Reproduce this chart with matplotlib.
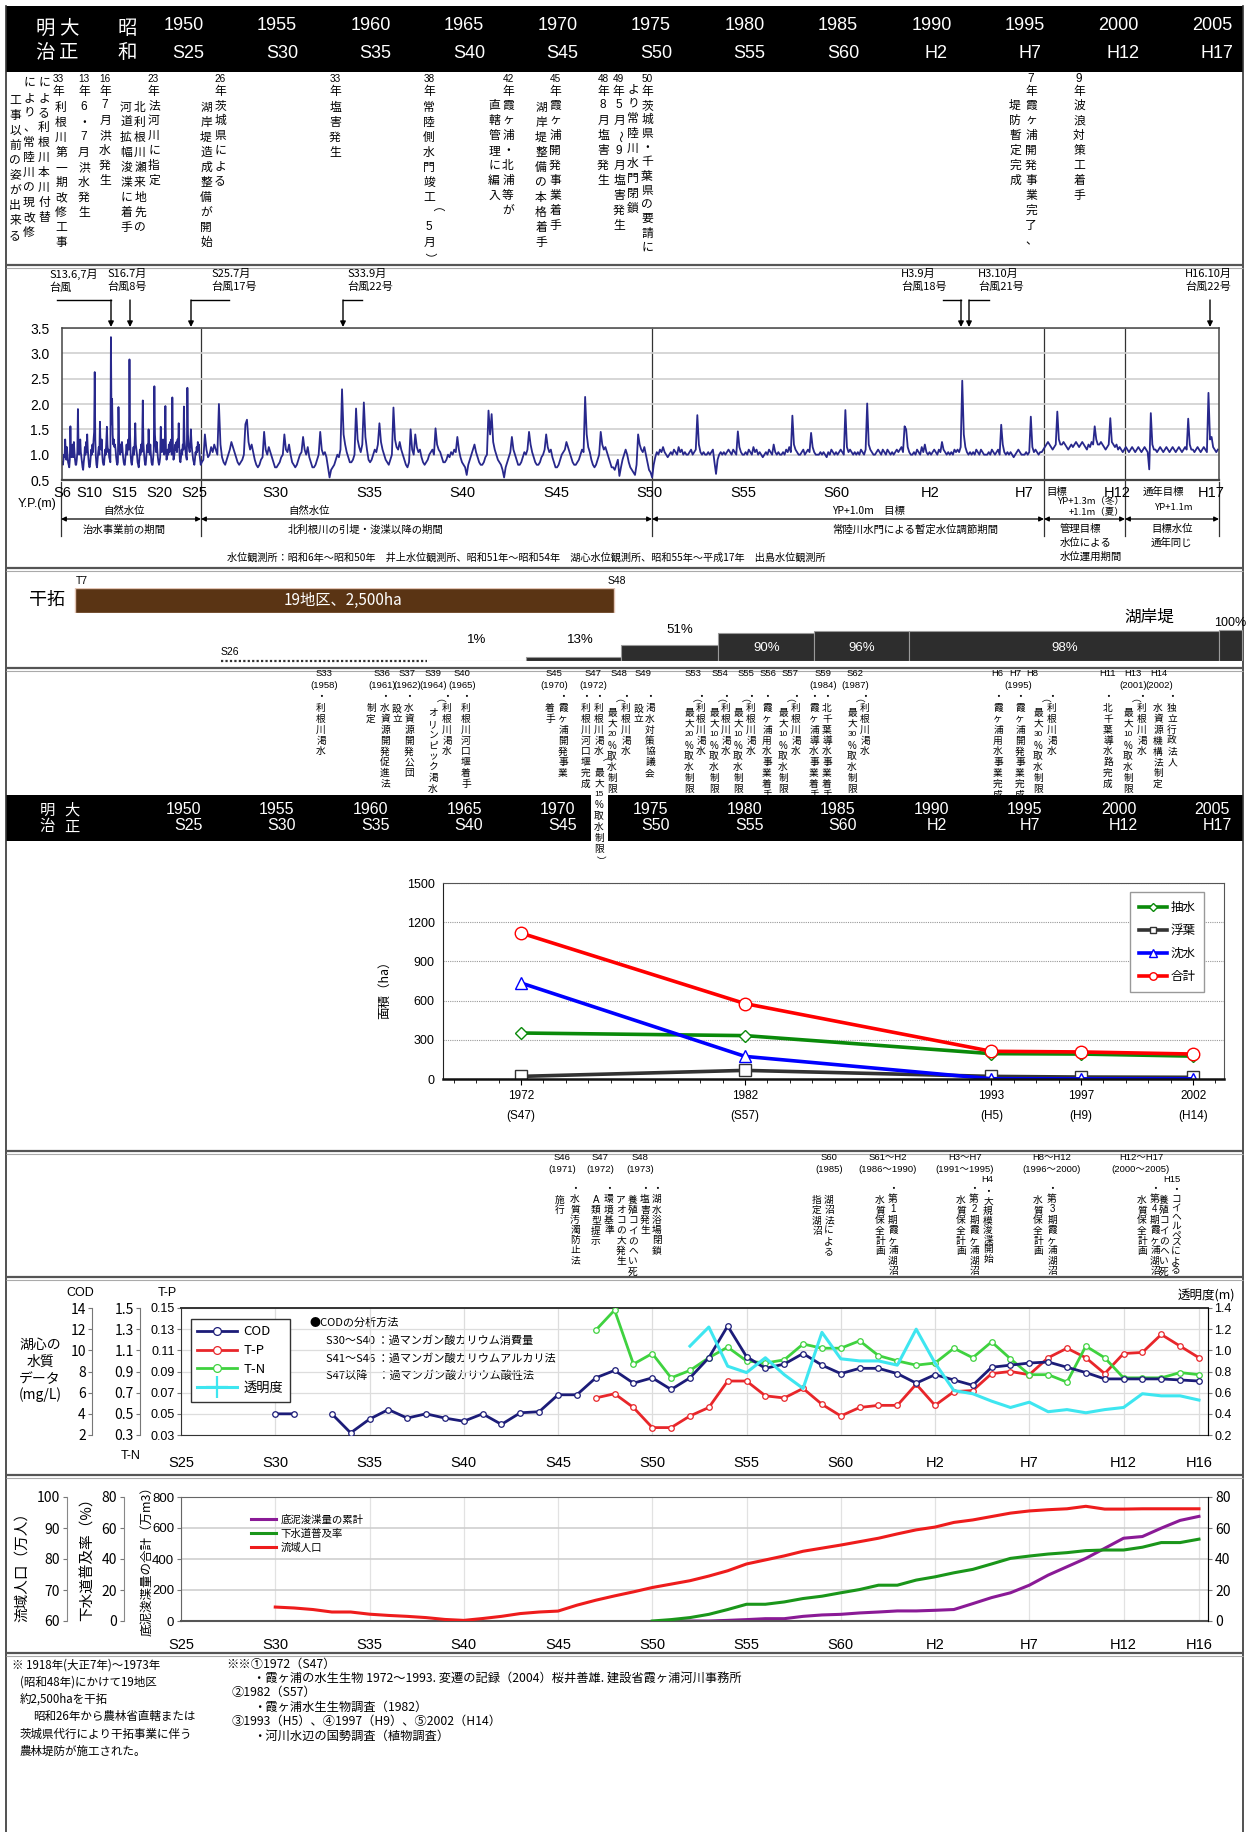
import re
import numpy as np
import matplotlib
matplotlib.use('Agg')
import matplotlib.pyplot as plt
from matplotlib import font_manager
from matplotlib.patches import Rectangle
from matplotlib.lines import Line2D

W, H, DPI = 1246, 1832, 100
JP = 'Noto Sans CJK JP'
_names = {f.name for f in font_manager.fontManager.ttflist}
NARROW = 'Liberation Sans Narrow' if 'Liberation Sans Narrow' in _names else 'Liberation Sans'
plt.rcParams['font.family'] = [JP, 'DejaVu Sans']
plt.rcParams['axes.unicode_minus'] = False
NUMF = [NARROW, JP, 'DejaVu Sans']
JPF = [JP, 'DejaVu Sans']
PT = 72.0 / DPI

# ===================== DATA =====================
HEAD_YEARS = [1950, 1955, 1960, 1965, 1970, 1975, 1980, 1985, 1990, 1995, 2000, 2005]
HEAD_ERAS = ['S25', 'S30', 'S35', 'S40', 'S45', 'S50', 'S55', 'S60', 'H2', 'H7', 'H12', 'H17']

# monthly lake water level (Y.P. m), one row per year from 1931
WL_START = 1931
water_level = [
    [0.85, 0.80, 0.90, 1.00, 0.95, 1.30, 1.05, 0.90, 1.15, 1.00, 0.85, 0.80],
    [0.75, 0.90, 1.56, 1.10, 0.95, 1.05, 1.20, 0.95, 1.25, 1.05, 0.90, 0.80],
    [0.80, 0.90, 1.05, 1.90, 1.20, 1.00, 1.10, 1.30, 1.05, 0.95, 0.85, 0.75],
    [0.70, 0.85, 0.95, 1.15, 1.00, 1.25, 1.05, 1.40, 1.10, 0.95, 0.80, 0.75],
    [0.80, 0.95, 1.10, 1.00, 1.20, 1.05, 1.30, 1.45, 2.63, 1.30, 0.95, 0.80],
    [0.75, 0.90, 1.05, 1.15, 1.00, 1.65, 1.20, 1.10, 1.30, 1.00, 0.85, 0.80],
    [0.80, 0.95, 1.10, 1.00, 1.25, 1.55, 1.20, 1.05, 1.10, 0.95, 0.90, 0.85],
    [3.32, 1.60, 2.10, 1.40, 1.20, 1.30, 1.15, 1.20, 1.10, 0.95, 0.85, 0.80],
    [0.85, 1.94, 1.30, 1.10, 1.00, 1.20, 1.05, 1.25, 1.10, 0.95, 0.85, 0.80],
    [0.80, 0.95, 1.05, 1.20, 1.00, 1.15, 1.30, 1.10, 2.88, 1.40, 1.00, 0.85],
    [0.80, 0.90, 1.05, 1.15, 1.00, 1.25, 1.62, 1.20, 1.10, 1.00, 0.85, 0.80],
    [0.75, 0.90, 1.10, 1.00, 1.20, 1.05, 1.30, 2.07, 1.25, 1.05, 0.90, 0.80],
    [0.80, 0.95, 1.10, 1.20, 1.05, 1.50, 1.15, 1.00, 1.20, 1.00, 0.85, 0.80],
    [0.80, 0.95, 1.10, 2.35, 1.40, 1.20, 1.05, 1.25, 1.10, 0.95, 0.85, 0.80],
    [0.85, 0.95, 1.55, 1.20, 1.05, 1.10, 1.30, 1.15, 1.00, 1.20, 1.96, 1.10],
    [0.90, 0.95, 1.10, 1.00, 1.20, 1.05, 1.25, 1.15, 1.30, 1.00, 2.13, 1.20],
    [0.90, 0.95, 1.05, 1.20, 1.10, 1.25, 1.05, 1.30, 1.15, 1.62, 1.10, 0.90],
    [0.85, 0.95, 1.10, 1.00, 1.20, 1.10, 1.95, 1.30, 1.15, 1.05, 0.95, 0.90],
    [2.32, 1.40, 1.20, 1.10, 1.05, 1.20, 1.50, 1.25, 1.10, 1.00, 0.90, 0.85],
    [0.80, 0.90, 1.05, 1.00, 1.15, 1.05, 1.25, 1.10, 1.20, 1.00, 0.90, 0.80],
    [0.85, 0.90, 1.40, 1.10, 0.95, 1.00, 1.15, 1.05, 1.20, 1.10, 1.00, 2.00],
    [1.20, 0.95, 0.85, 0.80, 0.90, 1.00, 1.10, 1.25, 1.15, 1.05, 0.95, 0.85],
    [0.80, 0.85, 0.90, 1.00, 1.60, 1.69, 1.25, 1.10, 1.20, 1.05, 0.90, 0.80],
    [0.75, 0.80, 0.90, 0.95, 1.45, 1.10, 1.00, 1.15, 1.05, 0.95, 0.85, 0.75],
    [0.75, 0.80, 0.85, 0.95, 1.00, 1.40, 1.10, 1.05, 1.20, 1.00, 0.85, 0.80],
    [0.75, 0.80, 0.90, 1.00, 1.05, 1.35, 1.10, 1.00, 1.15, 0.95, 0.85, 0.75],
    [0.75, 0.80, 0.90, 1.00, 1.45, 1.10, 1.00, 1.05, 0.95, 0.75, 0.55, 0.70],
    [0.75, 0.80, 0.90, 1.00, 0.95, 1.10, 2.29, 1.40, 1.20, 1.05, 0.95, 0.85],
    [0.85, 0.90, 1.00, 1.91, 1.30, 1.15, 1.05, 1.20, 2.03, 1.35, 1.10, 0.90],
    [0.85, 0.90, 1.00, 1.10, 1.05, 1.20, 1.62, 1.25, 1.10, 1.00, 0.90, 0.85],
    [0.80, 0.90, 1.00, 1.93, 1.30, 1.15, 1.10, 1.25, 1.10, 1.00, 0.90, 0.80],
    [0.75, 0.85, 1.50, 1.10, 1.00, 1.40, 1.15, 1.05, 1.10, 0.95, 0.85, 0.80],
    [0.85, 0.90, 1.00, 1.05, 1.10, 1.00, 1.52, 1.20, 1.10, 1.05, 0.95, 0.85],
    [0.85, 0.90, 1.00, 0.95, 1.05, 1.00, 1.10, 1.05, 1.35, 1.10, 0.95, 0.85],
    [0.80, 0.75, 0.60, 0.80, 0.90, 1.00, 1.10, 1.20, 1.05, 0.95, 0.85, 0.80],
    [0.80, 0.85, 0.95, 1.00, 1.87, 1.40, 1.80, 1.25, 1.10, 1.00, 0.90, 0.85],
    [0.80, 0.70, 0.55, 0.75, 0.85, 0.95, 1.05, 1.35, 1.10, 1.00, 0.90, 0.80],
    [0.80, 0.85, 0.95, 1.05, 1.00, 1.10, 1.45, 1.20, 1.05, 0.95, 0.85, 0.80],
    [0.80, 0.85, 0.95, 1.00, 1.10, 1.40, 1.15, 1.05, 1.10, 0.95, 0.85, 0.75],
    [0.75, 0.80, 0.90, 1.00, 1.05, 1.10, 1.25, 1.15, 1.05, 0.95, 0.85, 0.80],
    [0.80, 0.85, 0.90, 1.00, 1.10, 1.05, 2.14, 1.40, 1.15, 1.05, 0.90, 0.80],
    [0.75, 0.80, 0.90, 1.00, 1.45, 1.20, 1.10, 1.15, 1.05, 0.95, 0.85, 0.75],
    [0.75, 0.70, 0.80, 0.90, 0.58, 0.75, 0.90, 1.00, 1.10, 1.00, 0.85, 0.75],
    [0.70, 0.65, 0.60, 0.80, 1.40, 1.20, 1.10, 1.05, 1.15, 1.00, 0.85, 0.70],
    [0.65, 0.55, 0.80, 0.95, 1.05, 1.00, 1.10, 1.05, 1.15, 1.05, 1.00, 0.95],
    [1.00, 1.05, 1.00, 1.10, 1.05, 1.00, 1.15, 1.05, 1.10, 1.00, 1.05, 1.00],
    [1.00, 1.05, 1.10, 1.00, 1.05, 1.10, 1.78, 1.20, 1.05, 1.00, 1.05, 1.00],
    [1.00, 1.05, 1.00, 1.05, 1.10, 0.85, 0.62, 0.90, 1.00, 1.05, 1.00, 1.05],
    [1.00, 1.05, 1.10, 1.05, 1.00, 1.10, 1.05, 1.00, 1.46, 1.15, 1.05, 1.00],
    [1.00, 1.05, 1.00, 1.10, 1.05, 1.00, 1.15, 1.05, 1.10, 1.00, 1.05, 1.00],
    [0.95, 1.00, 1.05, 1.00, 1.10, 1.05, 1.00, 1.20, 1.05, 1.00, 1.05, 1.00],
    [1.00, 1.05, 1.00, 1.10, 1.05, 1.15, 1.05, 1.77, 1.20, 1.10, 1.05, 1.00],
    [1.00, 1.05, 1.10, 1.00, 1.05, 1.10, 1.05, 1.43, 1.15, 1.05, 1.00, 1.00],
    [1.00, 1.05, 1.00, 1.05, 1.00, 0.95, 1.05, 1.00, 1.10, 1.05, 1.00, 1.05],
    [1.00, 1.05, 1.10, 1.05, 1.00, 1.88, 1.15, 1.05, 1.10, 1.05, 1.00, 1.05],
    [1.00, 1.05, 1.00, 1.10, 1.05, 1.00, 1.10, 2.01, 1.20, 1.10, 1.05, 1.00],
    [1.00, 1.05, 1.10, 1.05, 1.00, 1.10, 1.05, 1.00, 1.10, 1.05, 1.00, 1.05],
    [1.00, 1.05, 1.10, 1.05, 1.10, 1.15, 1.05, 1.56, 1.50, 1.15, 1.05, 1.00],
    [1.00, 1.05, 1.00, 1.10, 1.05, 1.00, 1.15, 1.05, 1.20, 1.05, 1.00, 1.05],
    [1.00, 1.05, 1.10, 1.05, 1.00, 1.10, 1.05, 1.25, 1.10, 1.05, 1.00, 1.05],
    [1.00, 1.05, 1.00, 1.10, 1.05, 1.10, 1.05, 1.15, 2.46, 1.40, 1.15, 1.05],
    [1.00, 1.05, 1.00, 1.05, 1.00, 1.10, 1.05, 1.00, 1.10, 1.05, 1.00, 1.00],
    [1.00, 1.05, 1.00, 1.10, 1.05, 1.00, 1.05, 1.10, 1.00, 1.59, 1.20, 1.05],
    [1.00, 1.05, 1.00, 1.05, 1.00, 0.95, 1.00, 1.05, 1.10, 1.05, 1.00, 1.00],
    [1.00, 1.05, 1.00, 1.05, 1.75, 1.15, 1.05, 1.10, 1.05, 1.00, 1.05, 1.05],
    [1.10, 1.15, 1.20, 1.25, 1.20, 1.15, 1.10, 1.15, 1.20, 1.85, 1.30, 1.20],
    [1.20, 1.25, 1.20, 1.15, 1.10, 1.15, 1.20, 1.15, 1.20, 1.25, 1.20, 1.15],
    [1.20, 1.25, 1.20, 1.15, 1.10, 1.20, 1.15, 1.25, 1.20, 1.56, 1.30, 1.20],
    [1.20, 1.25, 1.20, 1.15, 1.10, 1.15, 1.20, 1.72, 1.25, 1.20, 1.15, 1.20],
    [1.10, 1.15, 1.10, 1.05, 1.10, 1.15, 1.10, 1.05, 1.10, 1.15, 1.10, 1.05],
    [1.10, 1.15, 1.10, 1.05, 1.10, 1.15, 1.10, 1.05, 0.71, 1.82, 1.20, 1.10],
    [1.10, 1.05, 1.10, 1.15, 1.10, 1.05, 1.10, 1.15, 1.10, 1.05, 1.10, 1.15],
    [1.10, 1.05, 1.10, 1.15, 1.10, 1.05, 1.10, 1.15, 1.10, 1.71, 1.20, 1.10],
    [1.10, 1.05, 1.10, 1.15, 1.10, 1.05, 1.10, 1.15, 1.10, 1.05, 2.22, 1.30],
    [1.35, 1.15, 1.10, 1.05, 1.10],
]
WL_TICKS = [1931, 1935, 1940, 1945, 1950, 1955, 1960, 1965, 1970, 1975, 1980, 1985, 1990, 1995, 2000, 2005]
WL_TICK_LABELS = ['S6', 'S10', 'S15', 'S20', 'S25', 'S30', 'S35', 'S40', 'S45', 'S50', 'S55', 'S60', 'H2', 'H7', 'H12', 'H17']

RECLAIM = (1918, 1973)          # T7 - S48
SHORE_DOTTED = (1952, 1963)
SHORE_START = [1963, 1968.3, 1973.4, 1978.6, 1983.7, 1988.8, 2005.4]
SHORE_END = [1968.3, 1973.4, 1978.6, 1983.7, 1988.8, 2005.4, 2006.6]
SHORE_PCT = [1, 13, 51, 90, 96, 98, 100]

AREA_YEARS = [1972, 1982, 1993, 1997, 2002]
AREA_XLABELS = ['1972\n(S47)', '1982\n(S57)', '1993\n(H5)', '1997\n(H9)', '2002\n(H14)']
area_emergent = [352, 332, 194, 191, 175]
area_floating = [20, 66, 20, 15, 13]
area_submerged = [735, 173, 2, 1, 1]
area_total = [1117, 577, 212, 207, 191]

WQ_TICKS = [1950, 1955, 1960, 1965, 1970, 1975, 1980, 1985, 1990, 1995, 2000, 2004]
WQ_TICK_LABELS = ['S25', 'S30', 'S35', 'S40', 'S45', 'S50', 'S55', 'S60', 'H2', 'H7', 'H12', 'H16']
cod_years = list(range(1955, 2005))
cod = [4.0, 4.0, np.nan, 4.0, 2.2, 3.5, 4.4, 3.6, 4.0, 3.6, 3.3, 4.0, 3.0, 4.1, 4.2, 5.8, 5.8,
       7.4, 8.1, 6.9, 7.4, 6.3, 7.4, 9.3, 12.3, 9.4, 8.3, 8.7, 9.7, 8.6, 7.8, 8.3, 8.3, 7.8,
       6.9, 7.7, 7.2, 6.7, 8.4, 8.6, 8.8, 8.9, 8.4, 7.9, 7.3, 7.3, 7.3, 7.3, 7.2, 7.1]
tp_years = list(range(1972, 2005))
tp = [0.065, 0.069, 0.056, 0.037, 0.037, 0.048, 0.056, 0.081, 0.081, 0.067, 0.065, 0.074,
      0.059, 0.048, 0.056, 0.058, 0.058, 0.078, 0.058, 0.071, 0.072, 0.088, 0.090, 0.087,
      0.103, 0.112, 0.103, 0.088, 0.107, 0.108, 0.125, 0.114, 0.103]
tn_years = list(range(1972, 2005))
tn = [1.29, 1.48, 0.97, 1.07, 0.84, 0.91, 1.03, 1.13, 1.00, 0.98, 1.01, 1.16, 1.12, 1.12,
      1.19, 1.05, 1.00, 0.96, 0.98, 1.12, 1.03, 1.18, 1.02, 0.87, 0.87, 0.80, 1.14, 1.03,
      0.84, 0.84, 0.84, 0.89, 0.87]
tr_years = list(range(1977, 2005))
transparency = [1.04, 1.22, 0.85, 0.79, 0.93, 0.77, 0.64, 1.17, 0.92, 0.90, 0.90, 0.86, 1.20,
                0.88, 0.62, 0.59, 0.52, 0.46, 0.51, 0.42, 0.44, 0.41, 0.44, 0.46, 0.59, 0.57,
                0.57, 0.53]

pop_years = list(range(1955, 2005))
population = [64.5, 64.2, 63.7, 62.9, 62.9, 62.2, 61.8, 61.5, 61.1, 60.5, 60.2, 60.8, 61.5,
              62.4, 62.9, 63.2, 65.1, 66.7, 68.1, 69.4, 70.8, 71.9, 73.0, 74.5, 76.2, 78.4,
              79.7, 81.0, 82.5, 83.5, 84.5, 85.6, 86.7, 88.1, 89.4, 90.3, 91.8, 92.6, 93.7,
              94.8, 95.5, 95.9, 96.2, 97.0, 96.1, 96.1, 96.2, 96.2, 96.2, 96.2]
sewer_years = list(range(1975, 2005))
sewer = [0, 0.9, 2.2, 4.3, 7.4, 10.8, 10.8, 12.3, 14.5, 16.0, 18.2, 20.3, 23.1, 23.1, 26.4,
         28.5, 31.1, 33.3, 36.8, 40.4, 41.9, 43.2, 44.1, 45.4, 45.8, 45.8, 47.6, 50.6, 50.6, 52.8]
sludge_years = list(range(1976, 2005))
sludge = [0, 0, 0, 4, 9, 15, 15, 30, 39, 43, 52, 58, 65, 65, 69, 74, 112, 151, 182, 231, 296,
          350, 404, 469, 534, 545, 599, 649, 675]

# ===================== TEXT CONTENT =====================
SEC1_LABELS = [(58, '33年'), (84, '13年'), (105, '16年'), (153, '23年'), (220, '26年'), (335, '33年'),
               (429, '38年'), (508, '42年'), (555, '45年'), (603, '48年'), (618, '49年'),
               (647, '50年'), (1031, '7年'), (1079, '9年')]
SEC1_COLS = [(61, 100, '利根川第一期改修工事'), (44, 75, 'による利根川本川付替'),
             (29, 75, 'により、常陸川の現改修'), (15, 93, '工事以前の姿が出来る'),
             (84, 100, '6・7月洪水発生'), (105, 98, '7月洪水発生'),
             (154, 98, '法河川に指定'), (140, 100, '北利根川瀬来地先の'), (126, 100, '河道拡幅浚渫に着手'),
             (220, 98, '茨城県による'), (206, 100, '湖岸堤造成整備が開始'),
             (335, 100, '塩害発生'), (429, 100, '常陸側水門竣工（5月）'),
             (508, 98, '霞ヶ浦・北浦等が'), (494, 98, '直轄管理に編入'),
             (555, 98, '霞ヶ浦開発事業着手'), (541, 100, '湖岸堤整備の本格着手'),
             (603, 98, '8月塩害発生'), (619, 98, '5月～9月塩害発生'),
             (647, 98, '茨城県・千葉県の要請に', 14.2), (633, 81, 'より常陸川水門閉鎖'),
             (1031, 98, '霞ヶ浦開発事業完了、'), (1015, 98, '堤防暫定完成'),
             (1079, 98, '波浪対策工着手')]

SEC5_LABELS = [(324, 'S33', '(1958)'), (382, 'S36', '(1961)'), (407, 'S37', '(1962)'),
               (433, 'S39', '(1964)'), (462, 'S40', '(1965)'), (554, 'S45', '(1970)'),
               (593, 'S47', '(1972)'), (619, 'S48', ''), (643, 'S49', ''), (693, 'S53', ''),
               (720, 'S54', ''), (746, 'S55', ''), (768, 'S56', ''), (790, 'S57', ''),
               (823, 'S59', '(1984)'), (855, 'S62', '(1987)'), (997, 'H6', ''),
               (1015, 'H7', ''), (1032, 'H8', ''), (1108, 'H11', ''), (1133, 'H13', '(2001)'),
               (1159, 'H14', '(2002)')]
SEC5_EXTRA = [(1018, '(1995)')]
SEC5_COLS = [(321, 692, '・利根川渇水'),
             (385, 692, '・水資源開発促進法'), (371, 703, '制定'),
             (409, 692, '・水資源開発公団'), (397, 703, '設立'),
             (447, 692, '・利根川渇水'), (433, 697, '（オリンピック渇水）'),
             (466, 692, '・利根川河口堰着手'),
             (563, 692, '・霞ヶ浦開発事業'), (550, 703, '着手'),
             (586, 692, '・利根川河口堰完成'), (599, 692, '・利根川渇水（最大15%取水制限）'),
             (626, 692, '・利根川渇水'), (612, 697, '（最大20%取水制限）'),
             (650, 692, '・渇水対策協議会'), (638, 703, '設立'),
             (701, 692, '・利根川渇水'), (689, 697, '（最大20%取水制限）'),
             (726, 692, '・利根川渇水'), (714, 697, '（最大10%取水制限）'),
             (751, 692, '・利根川渇水'), (738, 697, '（最大10%取水制限）'),
             (767, 692, '・霞ヶ浦用水事業着手'),
             (796, 692, '・利根川渇水'), (783, 697, '（最大10%取水制限）'),
             (827, 692, '・北千葉導水事業着手'), (814, 692, '・霞ヶ浦導水事業着手'),
             (865, 692, '・利根川渇水'), (852, 697, '（最大30%取水制限）'),
             (998, 692, '・霞ヶ浦用水事業完成'), (1020, 692, '・霞ヶ浦開発事業完成'),
             (1052, 692, '・利根川渇水'), (1038, 697, '（最大30%取水制限）'),
             (1108, 692, '・北千葉導水路完成'),
             (1142, 692, '・利根川渇水'), (1128, 697, '（最大10%取水制限）'),
             (1172, 692, '・独立行政法人'), (1158, 703, '水資源機構法制定')]

SEC8_LABELS = [(562, 'S46', '(1971)'), (600, 'S47', '(1972)'), (640, 'S48', '(1973)'),
               (829, 'S60', '(1985)'), (888, 'S61～H2', '(1986～1990)'),
               (965, 'H3～H7', '(1991～1995)'), (1052, 'H8～H12', '(1996～2000)'),
               (1141, 'H12～H17', '(2000～2005)')]
SEC8_EXTRA = [(987, 'H4'), (1172, 'H15')]
SEC8_COLS = [(575, 1184, '・水質汚濁防止法'), (560, 1195, '施行'),
             (609, 1184, '・環境基準'), (596, 1195, 'A類型提示'),
             (657, 1184, '・湖水浴場閉鎖'), (645, 1184, '・塩害発生'),
             (633, 1195, '養殖コイのへい死'), (621, 1195, 'アオコの大発生'),
             (829, 1195, '湖沼法による'), (817, 1195, '指定湖沼'),
             (893, 1184, '・第1期霞ヶ浦湖沼'), (880, 1195, '水質保全計画'),
             (988, 1187, '・大規模浚渫開始', 9.6),
             (974, 1184, '・第2期霞ヶ浦湖沼'), (961, 1195, '水質保全計画'),
             (1052, 1184, '・第3期霞ヶ浦湖沼'), (1038, 1195, '水質保全計画'),
             (1176, 1186, '・コイヘルペスによる', 8.8), (1164, 1195, '養殖コイのへい死'),
             (1155, 1184, '・第4期霞ヶ浦湖沼'), (1142, 1195, '水質保全計画')]

# ===================== HELPERS =====================
fig = plt.figure(figsize=(W / DPI, H / DPI), dpi=DPI)
fig.patch.set_facecolor('white')
cv = fig.add_axes([0, 0, 1, 1])
cv.set_xlim(0, W)
cv.set_ylim(H, 0)
cv.axis('off')


def rect(x0, y0, x1, y1):
    return [x0 / W, 1 - y1 / H, (x1 - x0) / W, (y1 - y0) / H]


def xp(year):
    return 183.5 + (year - 1950) * 18.7


def pw(years, pxs):
    ys = np.asarray(years, float)
    ps = np.asarray(pxs, float)

    def fwd(t):
        return np.interp(t, ys, ps)

    def inv(p):
        return np.interp(p, ps, ys)
    return fwd, inv


ROT = set('（）()～~ー')


def vcol(x, ytop, s, size, pitch, color='black'):
    cells = re.findall(r'[0-9]+|.', s)
    for i, c in enumerate(cells):
        y = ytop + pitch * (i + 0.5)
        rot = -90 if c in ROT else 0
        fam = NUMF if c.isascii() and c not in '()' else JPF
        fs = size * 0.85 if (c.isdigit() and len(c) > 1) else size
        cv.text(x, y, c, fontsize=fs, ha='center', va='center', rotation=rot,
                rotation_mode='anchor', color=color, family=fam)


def hline(y):
    cv.plot([6, 1243], [y, y], color='#555555', lw=1.6, solid_capstyle='butt')
    cv.plot([6, 1243], [y + 2.6, y + 2.6], color='#aaaaaa', lw=0.8, solid_capstyle='butt')


# ===================== FRAME / BANDS =====================
cv.plot([6, 6], [6, H], color='#333333', lw=1.2)
cv.plot([1243, 1243], [6, H], color='#333333', lw=1.2)
for yy in (265, 568, 668, 1151, 1277, 1475, 1653):
    hline(yy)

cv.add_patch(Rectangle((6, 6), 1237, 66, facecolor='black', edgecolor='none'))
for (ch, x, y) in (('明', 45, 28), ('治', 45, 52), ('大', 69, 28), ('正', 69, 52), ('昭', 127, 28), ('和', 127, 52)):
    cv.text(x, y, ch, color='white', fontsize=14, ha='center', va='center')
for yr, era in zip(HEAD_YEARS, HEAD_ERAS):
    cv.text(xp(yr), 26, str(yr), color='white', fontsize=13, ha='center', va='center', family=NUMF)
    cv.text(xp(yr) + 5, 54, era, color='white', fontsize=13, ha='center', va='center', family=NUMF)

cv.add_patch(Rectangle((6, 795), 1237, 46, facecolor='black', edgecolor='none'))
cv.add_patch(Rectangle((591, 795), 17, 47, facecolor='white', edgecolor='none'))
for (ch, x, y) in (('明', 47, 810), ('治', 47, 827), ('大', 72, 810), ('正', 72, 827)):
    cv.text(x, y, ch, color='white', fontsize=11, ha='center', va='center')
for yr, era in zip(HEAD_YEARS, HEAD_ERAS):
    cv.text(xp(yr), 810, str(yr), color='white', fontsize=11.5, ha='center', va='center', family=NUMF)
    cv.text(xp(yr) + 5, 826, era, color='white', fontsize=11.5, ha='center', va='center', family=NUMF)

# ===================== SECTION 1: events =====================
for x, s in SEC1_LABELS:
    vcol(x, 73, s, 8.5, 12.5)
for item in SEC1_COLS:
    x, yt, s = item[:3]
    vcol(x, yt, s, 8.5, item[3] if len(item) > 3 else 15.0)

# ===================== SECTION 2: water level =====================
wl_vals = [v for row in water_level for v in row]
wl_t = WL_START + (np.arange(len(wl_vals)) + 0.5) / 12.0
wfwd, winv = pw([1800, 1931, 1951, 2100], [62 - 131 * 6.95, 62, 201, 201 + 149 * 18.7])
axw = fig.add_axes(rect(62, 328, 1219, 480))
axw.set_facecolor('none')
axw.set_xscale('function', functions=(wfwd, winv))
axw.set_xlim(1931, winv(1219))
axw.set_ylim(0.5, 3.5)
axw.plot(wl_t, wl_vals, color='#28288c', lw=1.3)
axw.set_yticks(np.arange(0.5, 3.51, 0.5))
axw.set_yticklabels(['%.1f' % v for v in np.arange(0.5, 3.51, 0.5)], family=NUMF, fontsize=10)
axw.set_xticks(WL_TICKS)
axw.set_xticklabels(WL_TICK_LABELS, family=NUMF, fontsize=10.5)
axw.tick_params(axis='both', length=0)
axw.tick_params(axis='x', pad=4)
axw.tick_params(axis='y', pad=9)
axw.yaxis.grid(True, color='#d0d0d0', lw=1.2)
axw.set_axisbelow(True)
for sp in axw.spines.values():
    sp.set_color('#444444')
    sp.set_linewidth(1.1)
axw.spines['bottom'].set_linewidth(1.6)

cv.text(37, 504, 'Y.P.(m)', fontsize=9, ha='center', va='center', family=NUMF)
for x in (201, 652, 1044, 1125):
    cv.plot([x, x], [328, 536], color='#333333', lw=0.9)
for x in (61, 1219):
    cv.plot([x, x], [482, 536], color='#333333', lw=0.9)
for a, b in ((61, 201), (201, 652), (652, 1044), (1044, 1125), (1125, 1219)):
    cv.annotate('', xy=(a, 519), xytext=(b, 519),
                arrowprops=dict(arrowstyle='<|-|>', color='black', lw=0.9, mutation_scale=7,
                                shrinkA=0, shrinkB=0))
fs_p = 7.5
cv.text(124, 511, '自然水位', fontsize=fs_p, ha='center', va='center')
cv.text(124, 530, '治水事業前の期間', fontsize=fs_p, ha='center', va='center')
cv.text(288, 511, '自然水位', fontsize=fs_p, ha='left', va='center')
cv.text(288, 530, '北利根川の引堤・浚渫以降の期間', fontsize=fs_p, ha='left', va='center')
cv.text(832, 511, 'YP+1.0m　目標', fontsize=fs_p, ha='left', va='center')
cv.text(832, 530, '常陸川水門による暫定水位調節期間', fontsize=fs_p, ha='left', va='center')
cv.text(1046, 492, '目標', fontsize=fs_p, ha='left', va='center')
cv.text(1058, 502, 'YP+1.3m（冬）', fontsize=6.8, ha='left', va='center')
cv.text(1069, 512, '+1.1m（夏）', fontsize=6.8, ha='left', va='center')
cv.text(1060, 529, '管理目標', fontsize=fs_p, ha='left', va='center')
cv.text(1060, 543, '水位による', fontsize=fs_p, ha='left', va='center')
cv.text(1060, 557, '水位運用期間', fontsize=fs_p, ha='left', va='center')
cv.text(1143, 492, '通年目標', fontsize=fs_p, ha='left', va='center')
cv.text(1155, 507, 'YP+1.1m', fontsize=6.8, ha='left', va='center')
cv.text(1151, 529, '目標水位', fontsize=fs_p, ha='left', va='center')
cv.text(1151, 543, '通年同じ', fontsize=fs_p, ha='left', va='center')
cv.text(227, 558, '水位観測所：昭和6年～昭和50年　井上水位観測所、昭和51年～昭和54年　湖心水位観測所、'
        '昭和55年～平成17年　出島水位観測所', fontsize=7.3, ha='left', va='center')

TYPH = [('S13.6,7月\n台風', 49, 57, 111), ('S16.7月\n台風8号', 107, 130, 130),
        ('S25.7月\n台風17号', 211, 229, 191), ('S33.9月\n台風22号', 347, 362, 343),
        ('H3.9月\n台風18号', 901, 943, 961), ('H3.10月\n台風21号', 978, 989, 969),
        ('H16.10月\n台風22号', 1185, 1210, 1210)]
for txt, tx, lx0, ax_ in TYPH:
    cv.text(tx, 269, txt, fontsize=8, ha='left', va='top', linespacing=1.25)
    if lx0 != ax_:
        cv.plot([lx0, ax_], [300, 300], color='black', lw=1)
    cv.annotate('', xy=(ax_, 327), xytext=(ax_, 300),
                arrowprops=dict(arrowstyle='-|>', color='black', lw=1, mutation_scale=8,
                                shrinkA=0, shrinkB=0))

# ===================== SECTION 3: reclamation / shore embankment =====================
rfwd, rinv = pw([1800, 1918, 1950, 2100], [75 - 118 * 3.39, 75, 183.5, 183.5 + 150 * 18.7])
axr = fig.add_axes(rect(0, 588, W, 613))
axr.set_xscale('function', functions=(rfwd, rinv))
axr.set_xlim(rinv(0), rinv(W))
axr.set_ylim(0, 1)
axr.axis('off')
axr.barh(0.5, RECLAIM[1] - RECLAIM[0], left=RECLAIM[0], height=1.0, color='#5a3414',
         edgecolor='#e2c4b4', linewidth=1.0)
cv.text(82, 581, 'T7', fontsize=7.5, ha='center', va='center', family=NUMF)
cv.text(617, 581, 'S48', fontsize=7.5, ha='center', va='center', family=NUMF)
cv.text(47, 600, '干拓', fontsize=13, ha='center', va='center')

axs = fig.add_axes(rect(0, 620, W, 661))
axs.set_xscale('function', functions=(rfwd, rinv))
axs.set_xlim(rinv(0), rinv(W))
axs.set_ylim(0, 132)
axs.axis('off')
axs.bar(SHORE_START, SHORE_PCT, width=np.subtract(SHORE_END, SHORE_START), align='edge',
        color='#2d2d2d', edgecolor='#9a9a9a', linewidth=0.8)
axs.plot(SHORE_DOTTED, [0.5, 0.5], color='#333333', lw=1.6, ls=(0, (1, 1)), clip_on=False)
cv.text(477, 640, '1%', fontsize=9.5, ha='center', va='center', family=NUMF)
cv.text(580, 640, '13%', fontsize=9.5, ha='center', va='center', family=NUMF)
cv.text(680, 630, '51%', fontsize=9.5, ha='center', va='center', family=NUMF)
cv.text(1230, 623, '100%', fontsize=9, ha='center', va='center', family=NUMF)
cv.text(1149, 617, '湖岸堤', fontsize=12, ha='center', va='center')
cv.text(230, 652, 'S26', fontsize=7.5, ha='center', va='center', family=NUMF)

# ===================== SECTION 5: water use events =====================
for x, a, b in SEC5_LABELS:
    cv.text(x, 673, a, fontsize=6.8, ha='center', va='center', family=NUMF)
    if b:
        cv.text(x, 685, b, fontsize=6.8, ha='center', va='center', family=NUMF)
for x, b in SEC5_EXTRA:
    cv.text(x, 685, b, fontsize=6.8, ha='center', va='center', family=NUMF)
for x, yt, s in SEC5_COLS:
    vcol(x, yt, s, 7, 10.8)

# ===================== SECTION 6: vegetation area chart =====================
axa = fig.add_axes(rect(443, 883, 1224, 1079))
axa.set_facecolor('none')
axa.set_xlim(1968.52, 2003.38)
axa.set_ylim(0, 1500)
l1, = axa.plot(AREA_YEARS, area_emergent, color='#0a8a0a', lw=2.6, marker='D', ms=6.5,
               mfc='white', mec='#0a8a0a', mew=1, label='抽水')
l2, = axa.plot(AREA_YEARS, area_floating, color='#333333', lw=2.6, marker='s', ms=8,
               mfc='white', mec='#333333', mew=1, label='浮葉')
l3, = axa.plot(AREA_YEARS, area_submerged, color='#0000ff', lw=2.6, marker='^', ms=9,
               mfc='white', mec='#0000ff', mew=1, label='沈水')
l4, = axa.plot(AREA_YEARS, area_total, color='#ff0000', lw=2.6, marker='o', ms=9,
               mfc='white', mec='#ff0000', mew=1, label='合計')
axa.set_yticks([0, 300, 600, 900, 1200, 1500])
axa.set_yticklabels(['0', '300', '600', '900', '1200', '1500'], family=NUMF, fontsize=9)
axa.set_xticks(AREA_YEARS)
axa.set_xticklabels(AREA_XLABELS, family=NUMF, fontsize=8.5, linespacing=1.9)
axa.set_xticks(range(1969, 2004), minor=True)
axa.tick_params(axis='x', which='major', length=4, pad=4)
axa.tick_params(axis='x', which='minor', length=3)
axa.tick_params(axis='y', length=0, pad=6)
axa.yaxis.grid(True, color='#999999', lw=0.8, ls=(0, (1, 1)))
axa.set_axisbelow(True)
axa.spines['left'].set_color('#222222')
axa.spines['bottom'].set_color('#111111')
axa.spines['bottom'].set_linewidth(1.8)
axa.spines['top'].set_color('#555555')
axa.spines['right'].set_color('#555555')
axa.legend(handles=[l1, l2, l3, l4], loc='upper left', bbox_to_anchor=(1124 / W, 1 - 886 / H),
           bbox_transform=fig.transFigure, fontsize=9, handlelength=2.2, labelspacing=0.8,
           fancybox=False, framealpha=1, edgecolor='#999999', borderpad=0.7, markerscale=0.6,
           handletextpad=0.3)
cv.text(385, 987, '面積（ha）', fontsize=9, rotation=90, ha='center', va='center')

# ===================== SECTION 8: water quality events =====================
for x, a, b in SEC8_LABELS:
    cv.text(x, 1157, a, fontsize=6.8, ha='center', va='center', family=NUMF)
    cv.text(x, 1169, b, fontsize=6.8, ha='center', va='center', family=NUMF)
for x, a in SEC8_EXTRA:
    cv.text(x, 1180, a, fontsize=6.8, ha='center', va='center', family=NUMF)
for item in SEC8_COLS:
    x, yt, s = item[:3]
    vcol(x, yt, s, 7, item[3] if len(item) > 3 else 10.2)

# ===================== SECTION 9: water quality chart =====================
axq = fig.add_axes(rect(181, 1308, 1208, 1435))
axq.set_facecolor('none')
axq.set_xlim(1950, 2004.48)
axq.set_ylim(0.03, 0.15)
axn = axq.twinx()
axn.set_ylim(0.3, 1.5)
axc = axq.twinx()
axc.set_ylim(2, 14)
axt = axq.twinx()
axt.set_ylim(0.2, 1.4)

axq.set_yticks(np.arange(0.03, 0.151, 0.02))
axq.set_yticklabels(['0.03', '0.05', '0.07', '0.09', '0.11', '0.13', '0.15'], family=NUMF, fontsize=9)
axn.set_yticks(np.arange(0.3, 1.51, 0.2))
axn.set_yticklabels(['0.3', '0.5', '0.7', '0.9', '1.1', '1.3', '1.5'], family=NUMF, fontsize=9)
axc.set_yticks(np.arange(2, 15, 2))
axc.set_yticklabels([str(v) for v in range(2, 15, 2)], family=NUMF, fontsize=9)
axt.set_yticks(np.arange(0.2, 1.41, 0.2))
axt.set_yticklabels(['0.2', '0.4', '0.6', '0.8', '1.0', '1.2', '1.4'], family=NUMF, fontsize=9)
for a, off in ((axn, 41 * PT), (axc, 89 * PT)):
    a.yaxis.set_ticks_position('left')
    a.yaxis.set_label_position('left')
    a.spines['left'].set_visible(True)
    a.spines['left'].set_position(('outward', off))
    a.spines['left'].set_color('#777777')
    for s in ('right', 'top', 'bottom'):
        a.spines[s].set_visible(False)
axt.spines['left'].set_visible(False)
axt.spines['top'].set_visible(False)
axt.spines['bottom'].set_visible(False)
for a in (axq, axn, axc, axt):
    a.tick_params(axis='y', length=3, pad=1.5, color='#777777')
axq.set_xticks(WQ_TICKS)
axq.set_xticklabels(WQ_TICK_LABELS, family=NUMF, fontsize=10.5)
axq.tick_params(axis='x', length=0, pad=15)
axq.grid(True, color='#dddddd', lw=0.9)
axq.set_axisbelow(True)
for s in ('top', 'bottom', 'left', 'right'):
    axq.spines[s].set_color('#333333')
axq.spines['top'].set_linewidth(1.4)

q1, = axc.plot(cod_years, cod, color='#1c1c78', lw=2, marker='o', ms=4, mfc='white', mec='#1c1c78',
               mew=0.9, label='COD')
q2, = axq.plot(tp_years, tp, color='#e8262a', lw=2, marker='o', ms=4, mfc='white', mec='#e8262a',
               mew=0.9, label='T-P')
q3, = axn.plot(tn_years, tn, color='#3fd23f', lw=2, marker='o', ms=4, mfc='white', mec='#3fd23f',
               mew=0.9, label='T-N')
q4, = axt.plot(tr_years, transparency, color='#3ee6f0', lw=2.2, label='透明度')
q4h = Line2D([], [], color='#3ee6f0', lw=2.2, marker='+', ms=11, mew=1.6)
axt.legend(handles=[q1, q2, q3, q4h], labels=['COD', 'T-P', 'T-N', '透明度'], loc='upper left',
           bbox_to_anchor=(184 / W, 1 - 1312 / H), bbox_transform=fig.transFigure, fontsize=9.5,
           handlelength=3.0, labelspacing=0.45, fancybox=False, framealpha=1, edgecolor='#333333',
           borderpad=0.5, handletextpad=0.5, markerscale=1.4)
cv.text(80, 1293, 'COD', fontsize=9, ha='center', va='center', family=NUMF)
cv.text(167, 1293, 'T-P', fontsize=9, ha='center', va='center', family=NUMF)
cv.text(131, 1456, 'T-N', fontsize=9, ha='center', va='center', family=NUMF)
cv.text(1206, 1296, '透明度(m)', fontsize=9, ha='center', va='center')
for txt, y in (('湖心の', 1345), ('水質', 1362), ('データ', 1379), ('(mg/L)', 1395)):
    cv.text(40, y, txt, fontsize=10, ha='center', va='center')
cv.text(310, 1323, '●CODの分析方法', fontsize=8, ha='left', va='center')
cv.text(326, 1341, 'S30～S40 ：過マンガン酸カリウム消費量', fontsize=8, ha='left', va='center')
cv.text(326, 1359, 'S41～S46 ：過マンガン酸カリウムアルカリ法', fontsize=8, ha='left', va='center')
cv.text(326, 1376, 'S47以降　：過マンガン酸カリウム酸性法', fontsize=8, ha='left', va='center')

# ===================== SECTION 10: population / sewer / dredging =====================
axb = fig.add_axes(rect(181, 1497, 1208, 1621))
axb.set_facecolor('none')
axb.set_xlim(1950, 2004.48)
axb.set_ylim(0, 800)
axsw = axb.twinx()
axsw.set_ylim(0, 80)
axp = axb.twinx()
axp.set_ylim(60, 100)
axb.set_yticks(range(0, 801, 200))
axb.set_yticklabels([str(v) for v in range(0, 801, 200)], family=NUMF, fontsize=9.5)
axsw.set_yticks(range(0, 81, 20))
axsw.set_yticklabels([str(v) for v in range(0, 81, 20)], family=NUMF, fontsize=9.5)
axsw.tick_params(axis='y', left=True, right=True, labelleft=True, labelright=True)
axp.set_yticks(range(60, 101, 10))
axp.set_yticklabels([str(v) for v in range(60, 101, 10)], family=NUMF, fontsize=9.5)
axp.yaxis.set_ticks_position('left')
axsw.spines['left'].set_visible(True)
axsw.spines['left'].set_position(('outward', 57 * PT))
axp.spines['left'].set_visible(True)
axp.spines['left'].set_position(('outward', 114 * PT))
axp.spines['right'].set_visible(False)
for a in (axsw, axp):
    a.spines['left'].set_color('#888888')
    a.spines['top'].set_visible(False)
    a.spines['bottom'].set_visible(False)
for a in (axb, axsw, axp):
    a.tick_params(axis='y', length=3, pad=2, color='#777777')
axb.set_xticks(WQ_TICKS)
axb.set_xticklabels(WQ_TICK_LABELS, family=NUMF, fontsize=10.5)
axb.tick_params(axis='x', length=0, pad=12)
axb.grid(True, color='#e2e2e2', lw=0.9)
axb.yaxis.grid(True, color='#cccccc', lw=1.1)
axb.set_axisbelow(True)
for s in axb.spines.values():
    s.set_color('#666666')
axb.spines['bottom'].set_color('#555555')
axb.spines['bottom'].set_linewidth(1.5)
b1, = axb.plot(sludge_years, sludge, color='#8a1a96', lw=2.2, label='底泥浚渫量の累計')
b2, = axsw.plot(sewer_years, sewer, color='#1a961a', lw=2.2, label='下水道普及率')
b3, = axp.plot(pop_years, population, color='#ee1c1c', lw=2.2, label='流域人口')
axp.legend(handles=[b1, b2, b3], loc='upper left', bbox_to_anchor=(242 / W, 1 - 1505 / H),
           bbox_transform=fig.transFigure, fontsize=7.5, frameon=False, handlelength=2.4,
           labelspacing=0.35, handletextpad=0.4)
cv.text(22, 1563, '流域人口（万人）', fontsize=10.5, rotation=90, ha='center', va='center')
cv.text(88, 1556, '下水道普及率（%）', fontsize=10.5, rotation=90, ha='center', va='center')
cv.text(147, 1558, '底泥浚渫量の合計（万m3）', fontsize=9, rotation=90, ha='center', va='center')

# ===================== FOOTNOTES =====================
FOOT_L = [(12, '※ 1918年(大正7年)～1973年'), (20, '(昭和48年)にかけて19地区'), (20, '約2,500haを干拓'),
          (33, '昭和26年から農林省直轄または'), (20, '茨城県代行により干拓事業に伴う'),
          (20, '農林堤防が施工された。')]
for i, (x, t) in enumerate(FOOT_L):
    cv.text(x, 1665 + i * 17.3, t, fontsize=8.3, ha='left', va='center')
FOOT_R = [(226, '※※①1972（S47）'),
          (253, '・霞ヶ浦の水生生物 1972～1993. 変遷の記録（2004）桜井善雄. 建設省霞ヶ浦河川事務所'),
          (232, '②1982（S57）'), (253, '・霞ヶ浦水生生物調査（1982）'),
          (232, '③1993（H5）、④1997（H9）、⑤2002（H14）'), (253, '・河川水辺の国勢調査（植物調査）')]
for i, (x, t) in enumerate(FOOT_R):
    cv.text(x, 1664 + i * 14.4, t, fontsize=8.8, ha='left', va='center')

# ===================== TOP OVERLAY (labels drawn over bars) =====================
ct = fig.add_axes([0, 0, 1, 1])
ct.set_xlim(0, W)
ct.set_ylim(H, 0)
ct.axis('off')
ct.text(343, 600, '19地区、2,500ha', color='white', fontsize=11, ha='center', va='center')
ct.text(767, 648, '90%', fontsize=9.5, ha='center', va='center', color='white', family=NUMF)
ct.text(862, 648, '96%', fontsize=9.5, ha='center', va='center', color='white', family=NUMF)
ct.text(1065, 648, '98%', fontsize=9.5, ha='center', va='center', color='white', family=NUMF)

fig.savefig('out.png', dpi=DPI, facecolor='white')
